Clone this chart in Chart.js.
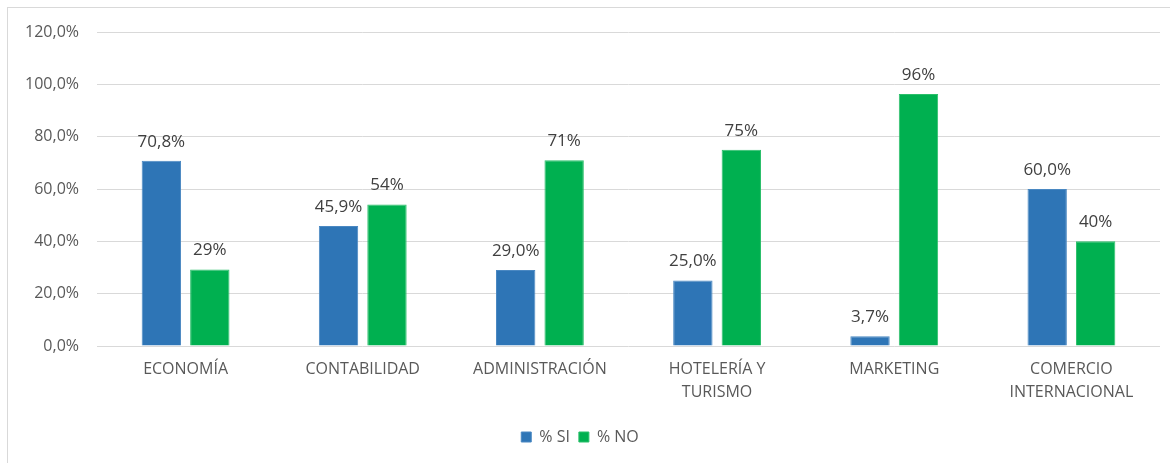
<!DOCTYPE html>
<html>
<head>
<meta charset="utf-8">
<script src="https://cdn.jsdelivr.net/npm/chart.js@4/dist/chart.umd.min.js"></script>
<style>
  html, body { margin: 0; padding: 0; background: #fff; overflow: hidden; }
  #frame { position: absolute; left: 7px; top: 7px; width: 1200px; height: 500px;
           border-left: 1px solid #d9d9d9; border-top: 1px solid #d9d9d9; }
  #wrap { position: absolute; left: 0; top: 0; width: 1170px; height: 463px; }
</style>
</head>
<body>
<div id="frame"></div>
<div id="wrap"><canvas id="c" width="1170" height="463"></canvas></div>
<script>
const categories = [["ECONOMÍA"], ["CONTABILIDAD"], ["ADMINISTRACIÓN"], ["HOTELERÍA Y", "TURISMO"], ["MARKETING"], ["COMERCIO", "INTERNACIONAL"]];
const seriesNames = ["% SI", "% NO"];
const siValues = [70.8, 45.9, 29.0, 25.0, 3.7, 60.0];
const noValues = [29.2, 54.1, 71.0, 75.0, 96.3, 40.0];
const siLabels = ["70,8%", "45,9%", "29,0%", "25,0%", "3,7%", "60,0%"];
const noLabels = ["29%", "54%", "71%", "75%", "96%", "40%"];
const yTicks = [0, 20, 40, 60, 80, 100, 120];

const FONT = "'Open Sans', 'Liberation Sans', sans-serif";

const labelPlugin = {
  id: 'barLabels',
  afterDatasetsDraw(chart) {
    const ctx = chart.ctx;
    const lists = [siLabels, noLabels];
    ctx.save();
    ctx.font = "17px " + FONT;
    ctx.fillStyle = "#404040";
    ctx.textAlign = "center";
    ctx.textBaseline = "middle";
    chart.data.datasets.forEach((ds, di) => {
      const meta = chart.getDatasetMeta(di);
      meta.data.forEach((bar, i) => {
        ctx.fillText(lists[di][i], bar.x, bar.y - 19);
      });
    });
    ctx.restore();
  }
};

new Chart(document.getElementById('c'), {
  type: 'bar',
  data: {
    labels: categories,
    datasets: [
      { label: seriesNames[0], data: siValues, backgroundColor: '#2E75B6', borderColor: '#4a88c2', borderWidth: 1,
        categoryPercentage: 0.547, barPercentage: 0.8125 },
      { label: seriesNames[1], data: noValues, backgroundColor: '#00B050', borderColor: '#2bbf6a', borderWidth: 1,
        categoryPercentage: 0.547, barPercentage: 0.8125 }
    ]
  },
  options: {
    responsive: false,
    animation: false,
    layout: { padding: { left: 0, right: 10, top: 32, bottom: 8 } },
    plugins: {
      legend: {
        position: 'bottom',
        labels: {
          font: { family: FONT, size: 16 },
          color: '#595959',
          boxWidth: 10,
          boxHeight: 10,
          padding: 9
        }
      },
      tooltip: { enabled: false }
    },
    scales: {
      x: {
        grid: { display: false, drawTicks: false },
        border: { display: false },
        ticks: { font: { family: FONT, size: 16, lineHeight: 1.45 }, color: '#595959', padding: 12, maxRotation: 0, autoSkip: false },
        afterFit(s) { s.height = 74; }
      },
      y: {
        min: 0, max: 120,
        afterBuildTicks(s) { s.ticks = yTicks.map(v => ({ value: v })); },
        grid: { color: '#d9d9d9', lineWidth: 1, drawTicks: false },
        border: { display: false },
        ticks: {
          font: { family: FONT, size: 16 }, color: '#595959', padding: 18,
          callback: (v) => v.toFixed(1).replace('.', ',') + '%'
        },
        afterFit(s) { s.width = 97; }
      }
    }
  },
  plugins: [labelPlugin]
});
</script>
</body>
</html>
